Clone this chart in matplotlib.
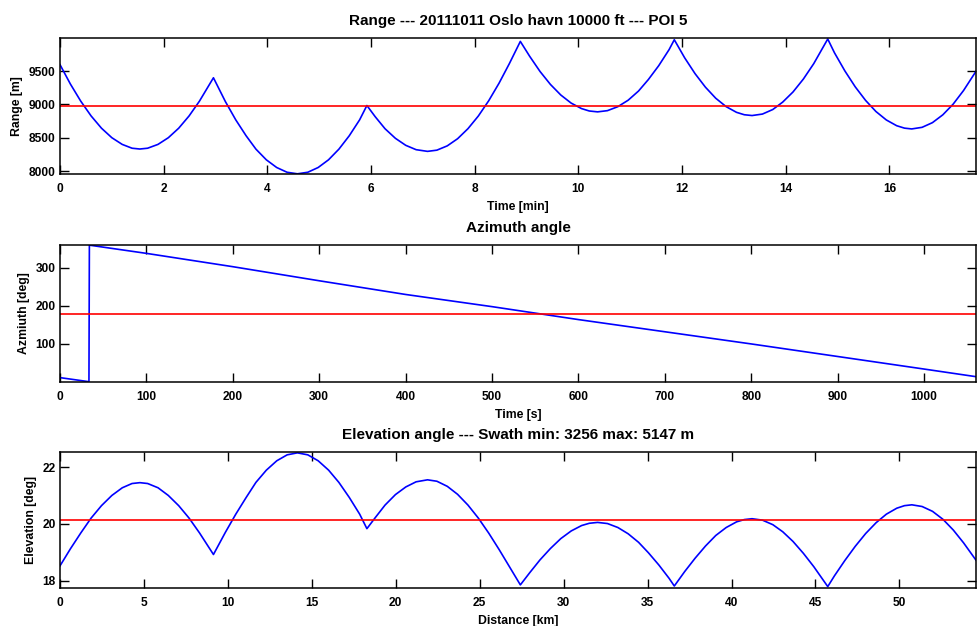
import matplotlib
matplotlib.use('Agg')
import matplotlib.pyplot as plt

# Slant range to the POI along the racetrack [min, m]
range_time = [0.00, 0.20, 0.40, 0.60, 0.80, 1.00, 1.20, 1.39, 1.54, 1.69, 1.89, 2.09, 2.29, 2.49, 2.69, 2.96,
              3.19, 3.39, 3.59, 3.78, 3.98, 4.18, 4.38, 4.58, 4.78, 4.98, 5.18, 5.38, 5.58, 5.78, 5.92,
              6.08, 6.27, 6.47, 6.67, 6.87, 7.09, 7.27, 7.47, 7.67, 7.87, 8.07, 8.27, 8.47, 8.67, 8.88,
              9.06, 9.26, 9.46, 9.66, 9.86, 10.06, 10.21, 10.37, 10.56, 10.76, 10.96, 11.16, 11.35, 11.55, 11.75, 11.85,
              12.05, 12.25, 12.45, 12.65, 12.85, 13.05, 13.20, 13.35, 13.55, 13.75, 13.94, 14.14, 14.34, 14.54, 14.81,
              14.94, 15.14, 15.34, 15.54, 15.74, 15.94, 16.14, 16.29, 16.43, 16.63, 16.83, 17.03, 17.23, 17.43, 17.67]
range_m = [9595, 9306, 9050, 8829, 8646, 8504, 8404, 8347, 8335, 8347, 8404, 8504, 8646, 8829, 9050, 9399,
           9044, 8771, 8533, 8333, 8174, 8059, 7988, 7965, 7988, 8059, 8174, 8333, 8533, 8771, 8985,
           8818, 8638, 8495, 8390, 8325, 8300, 8318, 8382, 8489, 8639, 8828, 9056, 9319, 9613, 9942,
           9720, 9493, 9300, 9142, 9021, 8939, 8903, 8890, 8908, 8967, 9064, 9201, 9373, 9580, 9820, 9967,
           9697, 9461, 9259, 9093, 8968, 8883, 8847, 8835, 8857, 8925, 9035, 9187, 9380, 9610, 9978,
           9772, 9502, 9264, 9061, 8895, 8769, 8683, 8647, 8635, 8659, 8729, 8846, 9006, 9209, 9496]
range_mean = 8980

# Azimuth to the POI [s, deg]
az_time = [0, 33.5, 34.0, 100, 200, 300, 400, 500, 600, 700, 800, 900, 1000, 1060]
az_deg = [11.5, 0.8, 359.6, 338, 303, 266, 230, 198, 164, 132, 100, 67, 34, 14]
az_ref = 180

# Elevation angle to the POI along the track [km, deg]
elev_dist = [0.00, 0.62, 1.24, 1.85, 2.47, 3.09, 3.71, 4.29, 4.76, 5.22, 5.84, 6.45, 7.07, 7.69, 8.31, 9.14,
             9.85, 10.47, 11.09, 11.67, 12.29, 12.91, 13.53, 14.14, 14.76, 15.38, 16.00, 16.61, 17.23, 17.85, 18.28,
             18.78, 19.36, 19.98, 20.60, 21.21, 21.89, 22.45, 23.07, 23.68, 24.30, 24.92, 25.54, 26.16, 26.77, 27.42,
             27.98, 28.59, 29.21, 29.83, 30.45, 31.07, 31.53, 32.02, 32.61, 33.23, 33.84, 34.46, 35.05, 35.67, 36.28, 36.59,
             37.21, 37.83, 38.45, 39.06, 39.68, 40.30, 40.76, 41.22, 41.84, 42.46, 43.05, 43.66, 44.28, 44.90, 45.73,
             46.13, 46.75, 47.37, 47.99, 48.61, 49.22, 49.84, 50.30, 50.74, 51.35, 51.97, 52.59, 53.21, 53.82, 54.56]
elev_deg = [18.52, 19.12, 19.68, 20.20, 20.64, 21.00, 21.27, 21.42, 21.45, 21.42, 21.27, 21.00, 20.64, 20.20, 19.68, 18.92,
            19.70, 20.34, 20.93, 21.46, 21.89, 22.22, 22.43, 22.50, 22.43, 22.22, 21.89, 21.46, 20.93, 20.34, 19.83,
            20.22, 20.66, 21.03, 21.30, 21.48, 21.55, 21.50, 21.32, 21.04, 20.66, 20.20, 19.67, 19.09, 18.49, 17.85,
            18.28, 18.73, 19.13, 19.48, 19.75, 19.94, 20.02, 20.05, 20.01, 19.87, 19.65, 19.35, 18.98, 18.55, 18.08, 17.81,
            18.32, 18.79, 19.22, 19.59, 19.87, 20.07, 20.15, 20.18, 20.13, 19.97, 19.72, 19.38, 18.96, 18.49, 17.79,
            18.17, 18.71, 19.21, 19.66, 20.04, 20.34, 20.55, 20.64, 20.67, 20.61, 20.44, 20.16, 19.78, 19.33, 18.72]
elev_mean = 20.14

plt.rcParams['font.family'] = ['Liberation Sans', 'DejaVu Sans']
plt.rcParams['font.weight'] = 'bold'
plt.rcParams['axes.titleweight'] = 'bold'
plt.rcParams['axes.labelweight'] = 'bold'


def style_axes(ax, title, xlabel, ylabel):
    ax.tick_params(direction='in', top=True, right=True, length=6.5, width=1.0,
                   labelsize=8.6, pad=6.5)
    ax.tick_params(axis='y', pad=3)
    for s in ax.spines.values():
        s.set_linewidth(1.1)
    ax.set_title(title, fontsize=11, pad=9.5)
    ax.set_xlabel(xlabel, fontsize=8.8, labelpad=4.5)
    ax.set_ylabel(ylabel, fontsize=8.8, labelpad=4)


def plot_poi():
    fig = plt.figure(figsize=(9.77, 6.26), dpi=100)
    left, width = 60 / 977, 916 / 977

    ax1 = fig.add_axes([left, 1 - 174 / 626, width, 136 / 626])
    ax1.plot(range_time, range_m, color='b', lw=1.2)
    ax1.axhline(range_mean, color='r', lw=1.2)
    ax1.set_xlim(0, range_time[-1])
    ax1.set_ylim(7962, 9993)
    ax1.set_xticks(range(0, 17, 2))
    ax1.set_yticks([8000, 8500, 9000, 9500])
    style_axes(ax1, 'Range --- 20111011 Oslo havn 10000 ft --- POI 5', 'Time [min]', 'Range [m]')

    ax2 = fig.add_axes([left, 1 - 382 / 626, width, 137 / 626])
    ax2.plot(az_time, az_deg, color='b', lw=1.2)
    ax2.axhline(az_ref, color='r', lw=1.2)
    ax2.set_xlim(0, az_time[-1])
    ax2.set_ylim(0, 360)
    ax2.set_xticks(range(0, 1001, 100))
    ax2.set_yticks([100, 200, 300])
    style_axes(ax2, 'Azimuth angle', 'Time [s]', 'Azmiuth [deg]')

    ax3 = fig.add_axes([left, 1 - 588 / 626, width, 136 / 626])
    ax3.plot(elev_dist, elev_deg, color='b', lw=1.2)
    ax3.axhline(elev_mean, color='r', lw=1.2)
    ax3.set_xlim(0, elev_dist[-1])
    ax3.set_ylim(17.74, 22.53)
    ax3.set_xticks(range(0, 51, 5))
    ax3.set_yticks([18, 20, 22])
    style_axes(ax3, 'Elevation angle --- Swath min: 3256 max: 5147 m', 'Distance [km]', 'Elevation [deg]')

    fig.savefig('out.png', dpi=100)


if __name__ == "__main__":
    plot_poi()
